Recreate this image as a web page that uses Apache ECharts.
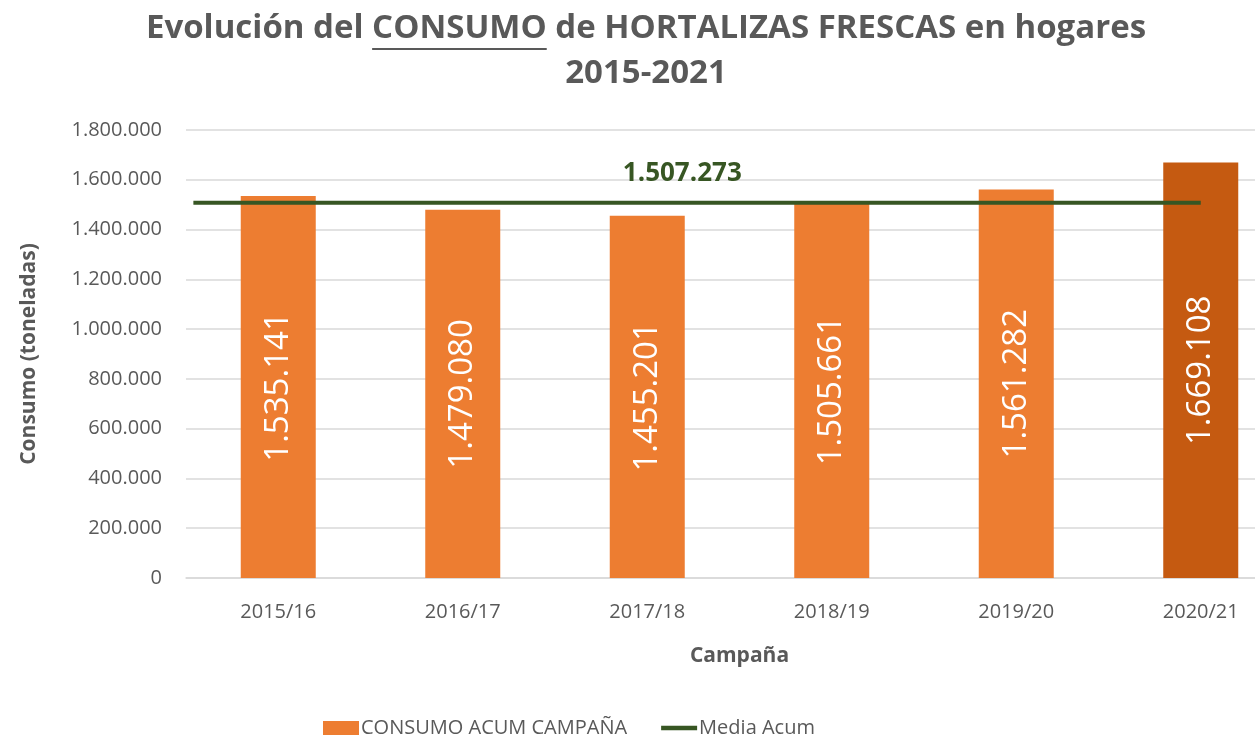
<!DOCTYPE html>
<html><head><meta charset="utf-8">
<script src="https://cdn.jsdelivr.net/npm/echarts@6/dist/echarts.min.js"></script>
<style>html,body{margin:0;padding:0;background:#fff}#c{width:1255px;height:738px}</style>
</head><body><div id="c"></div>
<script>
const categories = ['2015/16','2016/17','2017/18','2018/19','2019/20','2020/21'];
const consumo = [1535141, 1479080, 1455201, 1505661, 1561282, 1669108];
const media = 1507273;
const mediaX = [0.04, 2.69, 5.5];   // span of the average line on a hidden value axis (category units)
const yTicks = {min: 0, max: 1800000, interval: 200000};
const seriesNames = ['CONSUMO ACUM CAMPAÑA', 'Media Acum'];
const titleParts = ['Evolución del ', 'CONSUMO', ' de HORTALIZAS FRESCAS en hogares'];
const titleLine2 = '2015-2021';

const FONT = '"Open Sans", sans-serif';
const dots = v => String(Math.round(v)).replace(/\B(?=(\d{3})+(?!\d))/g, '.');

const cv = document.createElement('canvas').getContext('2d');
const titleFont = 'bold 33px "Open Sans"';
cv.font = titleFont;
const fullW = cv.measureText(titleParts.join('')).width;
const preW = cv.measureText(titleParts[0]).width;
const uW = cv.measureText(titleParts[1]).width;
const l2W = cv.measureText(titleLine2).width;
const tcx = 646;
const tStart = tcx - fullW / 2;

const chart = echarts.init(document.getElementById('c'));
chart.setOption({
  animation: false,
  textStyle: {fontFamily: FONT},
  graphic: [
    {type: 'text', left: tStart, top: 12, style: {text: titleParts.join(''), font: titleFont, fill: '#595959'}},
    {type: 'text', left: tcx - l2W / 2, top: 57, style: {text: titleLine2, font: titleFont, fill: '#595959'}},
    {type: 'line', shape: {x1: tStart + preW, y1: 49, x2: tStart + preW + uW, y2: 49}, style: {stroke: '#595959', lineWidth: 2}}
  ],
  legend: {
    top: 713, left: 318,
    itemWidth: 36, itemHeight: 14, itemGap: 34,
    textStyle: {fontSize: 20, color: '#595959', fontFamily: FONT, padding: [0,0,0,-3]},
    data: [
      {name: seriesNames[0], icon: 'rect'},
      {name: seriesNames[1], icon: 'path://M0,0 L40,0 L40,5 L0,5 Z'}
    ]
  },
  grid: {left: 186, width: 1107, top: 130, bottom: 160, outerBoundsMode: 'none', containLabel: false},
  xAxis: [
    {
      type: 'category', data: categories,
      axisLine: {lineStyle: {color: '#d9d9d9', width: 1.5}},
      axisTick: {show: false},
      axisLabel: {fontSize: 20, color: '#595959', margin: 24},
      name: 'Campaña', nameLocation: 'middle', nameGap: 68,
      nameTextStyle: {fontSize: 21, fontWeight: 'bold', color: '#595959'}
    },
    {type: 'value', min: 0, max: 6, show: false}
  ],
  yAxis: {
    type: 'value', min: yTicks.min, max: yTicks.max, interval: yTicks.interval,
    axisLine: {show: false}, axisTick: {show: false},
    splitLine: {lineStyle: {color: '#d9d9d9', width: 1.5}},
    axisLabel: {fontSize: 20, color: '#595959', margin: 24, formatter: v => dots(v)},
    name: 'Consumo (toneladas)', nameLocation: 'middle', nameGap: 146,
    nameTextStyle: {fontSize: 21, fontWeight: 'bold', color: '#595959'}
  },
  series: [
    {
      name: seriesNames[0], type: 'bar', barWidth: 75,
      itemStyle: {color: '#ED7D31'},
      data: consumo.map((v, i) => i === consumo.length - 1 ? {value: v, itemStyle: {color: '#C55A11'}} : v),
      label: {show: true, position: 'inside', rotate: 90, color: '#fff', fontSize: 33, fontFamily: FONT,
        formatter: p => dots(p.value)}
    },
    {
      name: seriesNames[1], type: 'line', xAxisIndex: 1,
      symbol: 'circle', symbolSize: 0,
      lineStyle: {color: '#375623', width: 4},
      itemStyle: {color: '#375623'},
      data: mediaX.map((x, i) => i === 1 ? {value: [x, media], label: {show: true, position: 'top', distance: 16,
        formatter: () => dots(media), color: '#375623', fontSize: 26, fontWeight: 'bold', fontFamily: FONT}} : [x, media]),
      z: 5
    }
  ]
});
</script></body></html>
